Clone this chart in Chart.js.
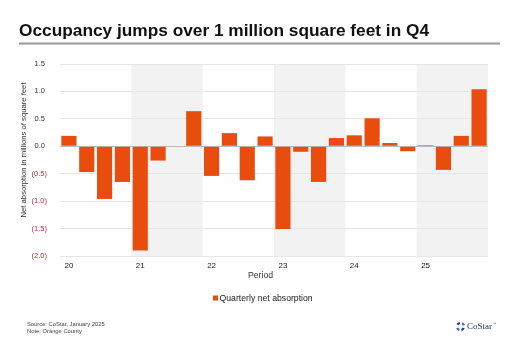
<!DOCTYPE html>
<html>
<head>
<meta charset="utf-8">
<script src="https://cdn.jsdelivr.net/npm/chart.js@4/dist/chart.umd.min.js"></script>
<style>
  html, body { margin: 0; padding: 0; background: #ffffff; }
  canvas { display: block; }
</style>
</head>
<body>
<canvas id="chart" width="520" height="346"></canvas>
<script>
// Orange County office market: quarterly net absorption, millions of sq ft
const years = ['20', '21', '22', '23', '24', '25'];
const quarters = ['Q1', 'Q2', 'Q3', 'Q4'];
const netAbsorption = [
  0.19, -0.47, -0.96, -0.65,   // 2020
  -1.90, -0.26, 0.00, 0.64,    // 2021
  -0.54, 0.24, -0.62, 0.18,    // 2022
  -1.51, -0.10, -0.65, 0.15,   // 2023
  0.20, 0.51, 0.06, -0.09,     // 2024
  0.02, -0.43, 0.19, 1.04      // 2025
];
const shadedYears = ['21', '23', '25'];
const yMin = -2.0, yMax = 1.5, yStep = 0.5;

const titleText = 'Occupancy jumps over 1 million square feet in Q4';
const yTitleText = 'Net absorption in millions of square feet';
const xTitleText = 'Period';
const sourceLines = ['Source: CoStar, January 2025', 'Note: Orange County'];

const categories = [];
years.forEach(y => quarters.forEach(q => categories.push(y + ' ' + q)));

const BAR = '#E84D0E';
const FONT = '"Liberation Sans", Arial, sans-serif';

// Alternate-year background bands, drawn beneath the grid
const bandPlugin = {
  id: 'yearBands',
  beforeDraw(chart) {
    const { ctx, chartArea, scales } = chart;
    const x = scales.x;
    const step = (x.right - x.left) / categories.length;
    ctx.save();
    ctx.fillStyle = '#F2F2F2';
    shadedYears.forEach(yr => {
      const first = categories.indexOf(yr + ' Q1');
      const left = x.getPixelForValue(first) - step / 2;
      const right = x.getPixelForValue(first + 3) + step / 2;
      ctx.fillRect(left, chartArea.top, right - left, chartArea.bottom - chartArea.top);
    });
    ctx.restore();
  }
};

// Heading, axis titles, legend, notes and logo
const decorPlugin = {
  id: 'decor',
  afterDraw(chart) {
    const { ctx } = chart;
    ctx.save();

    ctx.fillStyle = '#111111';
    ctx.font = 'bold 17.3px ' + FONT;
    ctx.textAlign = 'left';
    ctx.textBaseline = 'alphabetic';
    ctx.fillText(titleText, 19, 35.7);

    ctx.strokeStyle = '#999999';
    ctx.lineWidth = 2;
    ctx.beginPath();
    ctx.moveTo(19, 43.5);
    ctx.lineTo(500, 43.5);
    ctx.stroke();

    ctx.fillStyle = '#333333';
    ctx.font = '7.7px ' + FONT;
    ctx.textAlign = 'center';
    ctx.textBaseline = 'middle';
    ctx.save();
    ctx.translate(24, 150);
    ctx.rotate(-Math.PI / 2);
    ctx.fillText(yTitleText, 0, 0);
    ctx.restore();

    ctx.font = '8.7px ' + FONT;
    ctx.fillText(xTitleText, 260.5, 276);

    // legend entry from the dataset
    const ds = chart.data.datasets[0];
    ctx.fillStyle = ds.backgroundColor;
    ctx.fillRect(213, 295.5, 5, 5);
    ctx.fillStyle = '#222222';
    ctx.font = '8.7px ' + FONT;
    ctx.textAlign = 'left';
    ctx.textBaseline = 'middle';
    ctx.fillText(ds.label, 219.5, 298.5);

    ctx.fillStyle = '#444444';
    ctx.font = '5.8px ' + FONT;
    ctx.fillText(sourceLines[0], 27, 324);
    ctx.fillText(sourceLines[1], 27, 331.3);

    // CoStar mark
    const cx = 460.5, cy = 326.5, r = 3.6;
    ctx.lineWidth = 2.2;
    const segs = [[-2.6, -1.75, '#1E3C7A'], [-1.15, -0.3, '#3D6FB6'], [0.45, 1.3, '#1E3C7A'], [1.9, 2.75, '#3D6FB6']];
    segs.forEach(([a0, a1, c]) => {
      ctx.strokeStyle = c;
      ctx.beginPath();
      ctx.arc(cx, cy, r, a0, a1);
      ctx.stroke();
    });
    ctx.fillStyle = '#1B2F5C';
    ctx.font = '9px "Liberation Serif", "Times New Roman", serif';
    ctx.textBaseline = 'middle';
    ctx.fillText('CoStar', 467, 327);
    ctx.font = '3.5px ' + FONT;
    ctx.fillText('\u2122', 493, 324.5);

    ctx.restore();
  }
};

new Chart(document.getElementById('chart'), {
  type: 'bar',
  data: {
    labels: categories,
    datasets: [{
      label: 'Quarterly net absorption',
      data: netAbsorption,
      backgroundColor: BAR,
      borderWidth: 0,
      categoryPercentage: 1.0,
      barPercentage: 0.85
    }]
  },
  options: {
    responsive: false,
    animation: false,
    devicePixelRatio: 1,
    layout: { padding: { left: 20, right: 32, top: 64, bottom: 70 } },
    plugins: {
      legend: { display: false },
      title: { display: false },
      tooltip: { enabled: false }
    },
    scales: {
      x: {
        grid: { display: false, drawTicks: false },
        border: { display: false },
        afterFit(scale) { scale.height = 20; },
        ticks: {
          autoSkip: false,
          maxRotation: 0,
          minRotation: 0,
          padding: 5,
          color: '#222222',
          font: { family: FONT, size: 8 },
          callback(value, index) {
            return index % quarters.length === 0 ? years[index / quarters.length] : '';
          }
        }
      },
      y: {
        min: yMin,
        max: yMax,
        afterFit(scale) { scale.width = 40; },
        border: { display: false },
        grid: {
          drawTicks: false,
          lineWidth: 1,
          color(ctx) { return ctx.tick && ctx.tick.value === 0 ? '#BDBDBD' : '#E6E6E6'; }
        },
        ticks: {
          stepSize: yStep,
          padding: 13,
          font: { family: FONT, size: 7.5 },
          color(ctx) { return ctx.tick && ctx.tick.value < 0 ? '#A8353D' : '#333333'; },
          callback(value) {
            return value < 0 ? '(' + Math.abs(value).toFixed(1) + ')' : value.toFixed(1) + ' ';
          }
        }
      }
    }
  },
  plugins: [bandPlugin, decorPlugin]
});
</script>
</body>
</html>
